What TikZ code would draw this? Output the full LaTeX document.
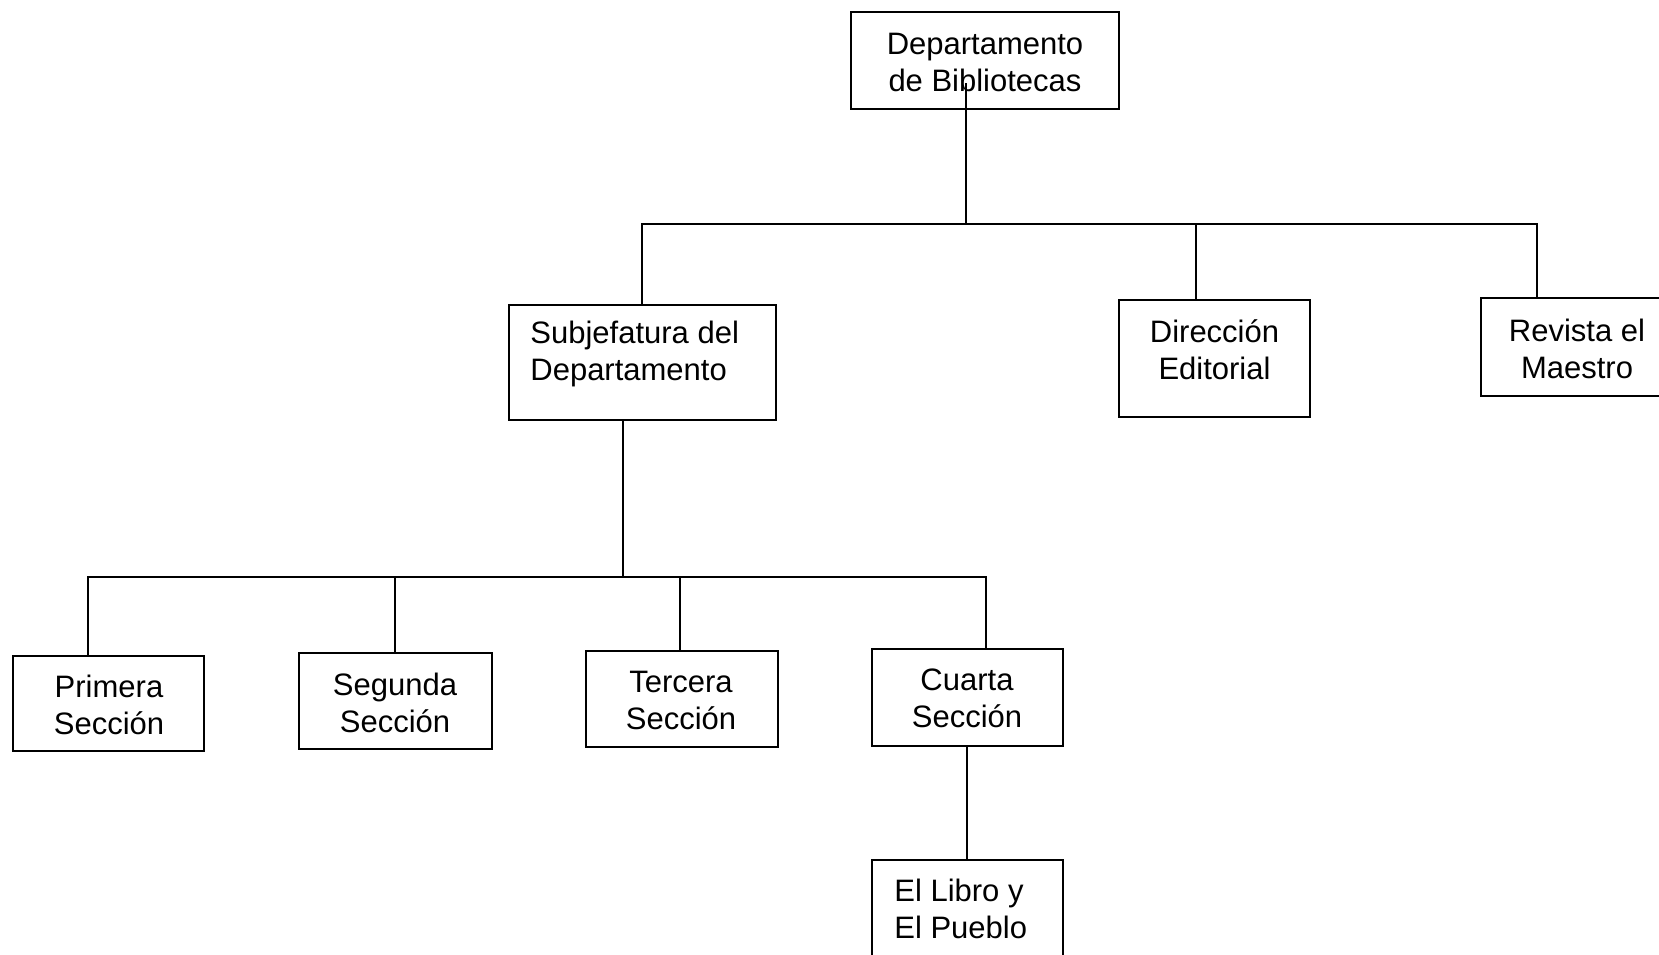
\documentclass[tikz,border=0pt]{standalone}
\usepackage{fontspec}
\setmainfont{Liberation Sans}
\begin{document}
\begin{tikzpicture}[x=0.5pt,y=-0.5pt,
  box/.style={draw=black,line width=1pt,inner sep=0pt},
  txt/.style={inner sep=0pt,align=center,font=\fontsize{15.5}{18.5}\selectfont},
  txtl/.style={txt,align=left,anchor=west},
  conn/.style={draw=black,line width=1pt}]
\useasboundingbox (0,0) rectangle (1659,954);
\fill[white] (0,0) rectangle (1659,954);
\begin{scope}
\clip (0,0) rectangle (1659,954);
% boxes
\node[box,minimum width=134pt,minimum height=48.5pt] (top) at (985,60.5) {};
\node[box,minimum width=133.5pt,minimum height=57.5pt] (subj) at (642.5,362.5) {};
\node[box,minimum width=95.5pt,minimum height=58.5pt] (dir) at (1214.5,358.5) {};
\node[box,minimum width=100pt,minimum height=49pt,anchor=west] (rev) at (1480,347) {};
\node[box,minimum width=95.5pt,minimum height=47.5pt] (prim) at (108.5,703.5) {};
\node[box,minimum width=96.5pt,minimum height=48pt] (seg) at (395.5,701) {};
\node[box,minimum width=96pt,minimum height=48pt] (ter) at (682,699) {};
\node[box,minimum width=95.5pt,minimum height=48.5pt] (cuar) at (967.5,697.5) {};
\node[box,minimum width=95.5pt,minimum height=50pt,anchor=north] (libro) at (967.5,859) {};
% texts
\node[txt] (topT) at (985,62) {Departamento\\de Bibliotecas};
\node[txtl] (subjT) at (530,354) {Subjefatura del\\Departamento};
\node[txt] (dirT) at (1214.5,350) {Dirección\\Editorial};
\node[txt] (revT) at (1577,349) {Revista el\\Maestro};
\node[txt] (primT) at (109,705) {Primera\\Sección};
\node[txt] (segT) at (395,703) {Segunda\\Sección};
\node[txt] (terT) at (681,700) {Tercera\\Sección};
\node[txt] (cuarT) at (967,698) {Cuarta\\Sección};
\node[txtl] (libroT) at (894,909) {El Libro y\\El Pueblo};
% coordinates
\coordinate (tp) at (966,83);
\coordinate (b1T) at (966,224);
\coordinate (b1L) at (642,224);
\coordinate (b1R) at (1537,224);
\coordinate (b1D) at (1196,224);
\coordinate (b2T) at (623,577);
\coordinate (b2L) at (88,577);
\coordinate (b2R) at (986,577);
\coordinate (b2S) at (395,577);
\coordinate (b2Tr) at (680,577);
\coordinate (c4) at (967,577);
% connectors
\draw[conn] (tp) -- (b1T);
\draw[conn] (subj.north -| b1L) -- (b1L) -- (b1R) -- (rev.north -| b1R);
\draw[conn] (b1D) -- (dir.north -| b1D);
\draw[conn] (subj.south -| b2T) -- (b2T);
\draw[conn] (prim.north -| b2L) -- (b2L) -- (b2R) -- (cuar.north -| b2R);
\draw[conn] (b2S) -- (seg.north -| b2S);
\draw[conn] (b2Tr) -- (ter.north -| b2Tr);
\draw[conn] (cuar.south -| c4) -- (libro.north -| c4);
\end{scope}
\end{tikzpicture}
\end{document}
